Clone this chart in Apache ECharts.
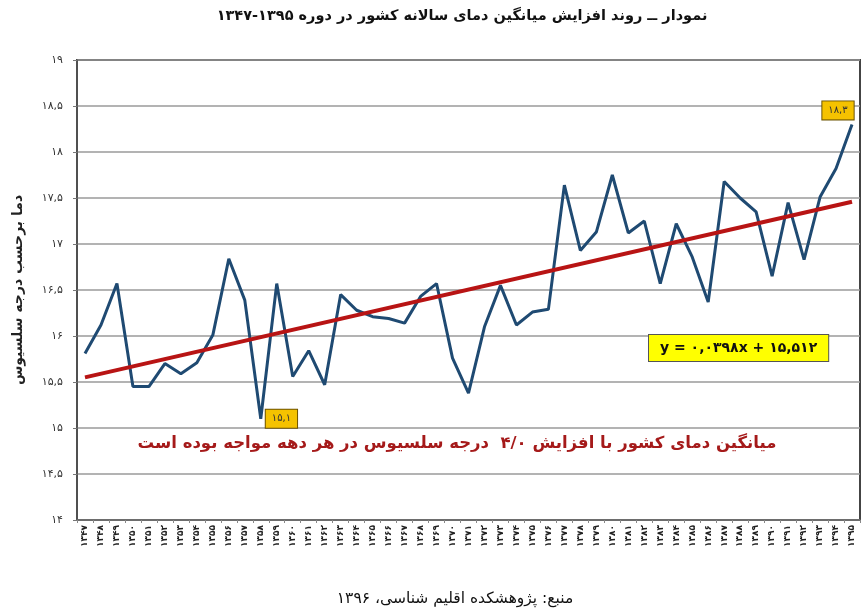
<!DOCTYPE html>
<html>
<head>
<meta charset="utf-8">
<script src="https://cdn.jsdelivr.net/npm/echarts@6/dist/echarts.min.js"></script>
<style>html,body{margin:0;padding:0;background:#fff}#c{width:863px;height:608px}</style>
</head>
<body>
<div id="c"></div>
<script>
var years = ['۱۳۴۷','۱۳۴۸','۱۳۴۹',
  '۱۳۵۰','۱۳۵۱','۱۳۵۲','۱۳۵۳','۱۳۵۴','۱۳۵۵','۱۳۵۶','۱۳۵۷','۱۳۵۸','۱۳۵۹',
  '۱۳۶۰','۱۳۶۱','۱۳۶۲','۱۳۶۳','۱۳۶۴','۱۳۶۵','۱۳۶۶','۱۳۶۷','۱۳۶۸','۱۳۶۹',
  '۱۳۷۰','۱۳۷۱','۱۳۷۲','۱۳۷۳','۱۳۷۴','۱۳۷۵','۱۳۷۶','۱۳۷۷','۱۳۷۸','۱۳۷۹',
  '۱۳۸۰','۱۳۸۱','۱۳۸۲','۱۳۸۳','۱۳۸۴','۱۳۸۵','۱۳۸۶','۱۳۸۷','۱۳۸۸','۱۳۸۹',
  '۱۳۹۰','۱۳۹۱','۱۳۹۲','۱۳۹۳','۱۳۹۴','۱۳۹۵'];
var temps = [15.81,16.12,16.57,15.45,15.45,15.70,15.59,15.71,16.01,16.84,
  16.39,15.10,16.57,15.56,15.84,15.47,16.45,16.28,16.21,16.19,
  16.14,16.43,16.57,15.76,15.38,16.10,16.55,16.12,16.26,16.29,
  17.64,16.93,17.13,17.75,17.12,17.25,16.57,17.22,16.86,16.37,
  17.68,17.50,17.35,16.65,17.45,16.83,17.51,17.82,18.30];
var trendEnds = [15.55, 17.46];
var yTickLabels = ['۱۴','۱۴,۵','۱۵','۱۵,۵','۱۶','۱۶,۵','۱۷','۱۷,۵','۱۸','۱۸,۵','۱۹'];
var labelIdx = {11:'۱۵,۱', 48:'۱۸,۳'};
var titleText = 'نمودار ــ روند افزایش میانگین دمای سالانه کشور در دوره ۱۳۹۵-۱۳۴۷';
var yName = 'دما برحسب درجه سلسیوس';
var noteText = 'میانگین دمای کشور با افزایش ۴/۰  درجه سلسیوس در هر دهه مواجه بوده است';
var eqText = 'y = ۰,۰۳۹۸x + ۱۵,۵۱۲';
var sourceText = 'منبع: پژوهشکده اقلیم شناسی، ۱۳۹۶';

var FONT = 'DejaVu Sans';
var boxStyle = {backgroundColor:'#f5c200', borderColor:'#6b5200', borderWidth:1, padding:[4,6],
  color:'#333', fontSize:10, fontFamily:FONT};

var lineData = temps.map(function(v,i){
  var d = {value:v};
  if (labelIdx[i]) {
    d.label = Object.assign({show:true, formatter:labelIdx[i], distance:5}, boxStyle,
      i===11 ? {position:'right', offset:[0,0]} : {position:'top', offset:[-14,0]});
  }
  return d;
});

var chart = echarts.init(document.getElementById('c'));
chart.setOption({
  animation:false,
  backgroundColor:'#fff',
  title:{text:titleText, left:457, textAlign:'center', top:4,
    textStyle:{fontFamily:FONT, fontSize:14.5, fontWeight:'bold', color:'#111'}},
  grid:{left:77, right:3, top:60, bottom:88, show:true, borderColor:'#444', borderWidth:2},
  xAxis:{type:'category', data:years, boundaryGap:true,
    axisLine:{lineStyle:{color:'#666', width:1.5}},
    axisTick:{show:true, length:3, lineStyle:{color:'#888'}},
    axisLabel:{interval:0, rotate:90, fontSize:9, fontWeight:'bold', color:'#222', fontFamily:FONT, margin:5}},
  yAxis:{type:'value', min:14, max:19, interval:0.5,
    name:yName, nameLocation:'middle', nameGap:52, nameRotate:90,
    nameTextStyle:{fontFamily:FONT, fontSize:14, fontWeight:'bold', color:'#222'},
    axisLine:{show:true, lineStyle:{color:'#555', width:1.5}},
    axisTick:{show:true, length:4, lineStyle:{color:'#777'}},
    splitLine:{lineStyle:{color:'#9a9a9a', width:1.5}},
    axisLabel:{fontFamily:FONT, fontSize:11, color:'#333', margin:14,
      formatter:function(v){ return yTickLabels[Math.round((v-14)/0.5)]; }}},
  series:[
    {type:'line', data:lineData, symbol:'circle', symbolSize:0, showSymbol:true,
      itemStyle:{color:'#1f4a72'}, lineStyle:{color:'#1f4a72', width:3}, z:3},
    {type:'line', data:[[0,trendEnds[0]],[years.length-1,trendEnds[1]]], symbol:'none',
      lineStyle:{color:'#b81414', width:4}, z:4}
  ],
  graphic:[
    {type:'text', z:10, style:{x:457, y:444, text:noteText, fill:'#a51a1a', textAlign:'center', textVerticalAlign:'middle',
      font:'bold 16.5px "DejaVu Sans"'}},
    {type:'text', left:648, top:334, z:10, style:{text:eqText, fill:'#111', font:'bold 14px "DejaVu Sans"',
      backgroundColor:'#ffff00', borderColor:'#555', borderWidth:1, padding:[6,11]}},
    {type:'text', z:10, style:{x:455, y:599, text:sourceText, fill:'#111', textAlign:'center', textVerticalAlign:'middle',
      font:'15.5px "DejaVu Sans"'}}
  ]
});
</script>
</body>
</html>
